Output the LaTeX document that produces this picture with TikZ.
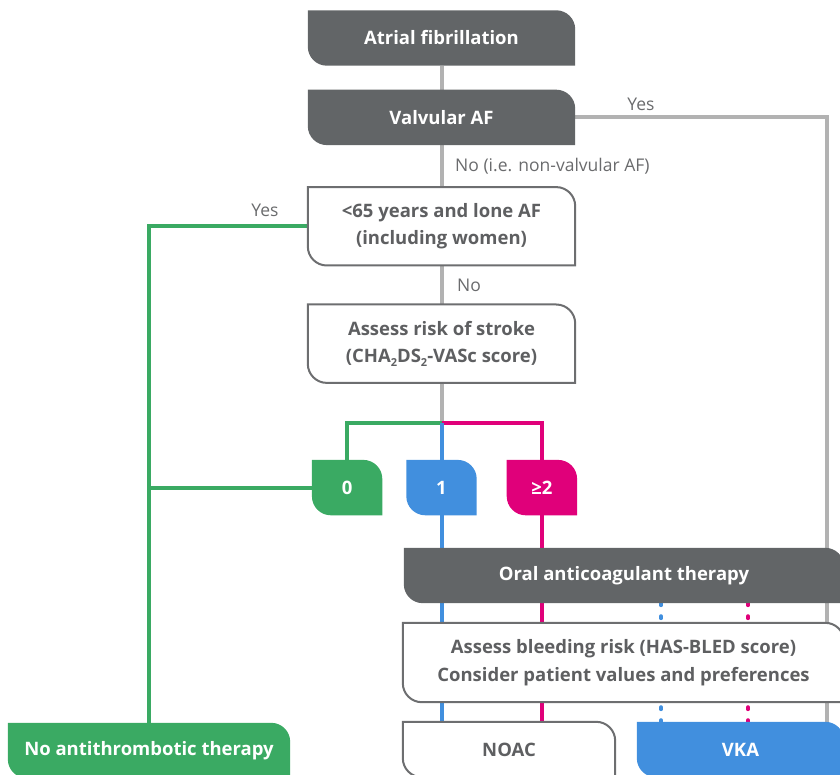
\documentclass[tikz,border=0pt]{standalone}
\usepackage{fontspec}
\setmainfont{Open Sans}
\usepackage{tikz}
\usetikzlibrary{positioning}
\definecolor{afdark}{HTML}{626567}
\definecolor{afline}{HTML}{B2B2B2}
\definecolor{afborder}{HTML}{6D6E70}
\definecolor{aftext}{HTML}{5E5F61}
\definecolor{aflabel}{HTML}{6A6B6D}
\definecolor{afgreen}{HTML}{3AAA63}
\definecolor{afblue}{HTML}{418FDE}
\definecolor{afmagenta}{HTML}{E0007A}
\pgfdeclarelayer{links}
\pgfdeclarelayer{boxes}
\pgfsetlayers{links,boxes,main}
\newcommand{\leafr}{19pt}
\newcommand{\lowtwo}{\raisebox{-3.5pt}{\fontsize{11}{11}\selectfont 2}}
% leaf outline: square top-left and bottom-right, rounded top-right and bottom-left
\newcommand{\leafbox}[2]{%
  \begin{pgfonlayer}{boxes}
  \path[#1] (#2.north west) -- ([xshift=-\leafr]#2.north east)
    arc[start angle=90,end angle=0,radius=\leafr] -- (#2.south east)
    -- ([xshift=\leafr]#2.south west)
    arc[start angle=270,end angle=180,radius=\leafr] -- cycle;
  \end{pgfonlayer}}
\tikzset{
flow box/.style={
  inner sep=0pt,
  align=center,
  minimum width=267pt,
  minimum height=55pt,
  font=\fontsize{18.5}{27.5}\selectfont\bfseries,
  text=aftext
},
dark box/.style={flow box, text=white},
score box/.style={dark box, minimum width=70pt},
flow label/.style={font=\fontsize{17.5}{20}\selectfont, text=aflabel, inner sep=0pt},
dark leaf/.style={fill=afdark},
white leaf/.style={fill=white, draw=afborder, line width=2pt},
green leaf/.style={fill=afgreen},
blue leaf/.style={fill=afblue},
magenta leaf/.style={fill=afmagenta},
gray link/.style={draw=afline, line width=4pt},
green link/.style={draw=afgreen, line width=4pt},
blue link/.style={draw=afblue, line width=4pt},
magenta link/.style={draw=afmagenta, line width=4pt},
dot link/.style={line width=4pt, line cap=round, dash pattern=on 2pt off 11pt}
}
\begin{document}
\begin{tikzpicture}[x=1pt,y=1pt]
\useasboundingbox (0,0) rectangle (840,774);
% main column
\node[dark box] (atrial) at (441.5,736) {Atrial fibrillation};
\node[dark box,below=24pt of atrial] (valvular) {Valvular AF};
\node[flow box,minimum height=78pt,below=42pt of valvular] (young) {<65 years and lone AF\\(including women)};
\node[flow box,minimum height=78pt,below=39pt of young] (stroke) {Assess risk of stroke\\(CHA\lowtwo DS\lowtwo-VASc score)};
\coordinate[below=40pt of stroke] (fork);
% scores
\node[score box,below=37pt of fork] (sone) {1};
\node[score box,left=24pt of sone] (szero) {0};
\node[score box,right=30pt of sone] (stwo) {≥2};
% therapy
\node[dark box,minimum width=440pt] (oral) at (624,198.5) {Oral anticoagulant therapy};
\node[flow box,minimum width=441pt,minimum height=79pt] (bleed) at (623.5,111.5) {Assess bleeding risk (HAS-BLED score)\\Consider patient values and preferences};
\node[flow box,minimum width=212pt] (noac) at (509,24.5) {NOAC};
\node[dark box,minimum width=207pt] (vka) at (740.5,24.5) {VKA};
\node[dark box,minimum width=282pt] (noanti) at (149,23.5) {No antithrombotic therapy};
\leafbox{dark leaf}{atrial}
\leafbox{dark leaf}{valvular}
\leafbox{white leaf}{young}
\leafbox{white leaf}{stroke}
\leafbox{green leaf}{szero}
\leafbox{blue leaf}{sone}
\leafbox{magenta leaf}{stwo}
\leafbox{dark leaf}{oral}
\leafbox{white leaf}{bleed}
\leafbox{white leaf}{noac}
\leafbox{blue leaf}{vka}
\leafbox{green leaf}{noanti}
% connectors
\coordinate (vkain) at (827,52);
\coordinate (bluedots) at (661,52);
\coordinate (magdots) at (748,52);
\begin{pgfonlayer}{links}
\draw[gray link] (atrial) -- (valvular);
\draw[gray link] (valvular) -- (young);
\draw[gray link] (young) -- (stroke);
\draw[gray link] (stroke) -- (fork);
\draw[gray link] (valvular.east) -| (vkain);
\draw[green link] (young.west) -| (noanti.north);
\draw[green link] (szero.west) -- (szero.west -| noanti.north);
\draw[green link] (fork) -| (szero.north);
\draw[magenta link] (fork) -| (stwo.north);
\draw[blue link] (fork) -- (sone.north);
\draw[blue link] (sone.south) -- (sone.south |- noac.north);
\draw[magenta link] (stwo.south) -- (stwo.south |- noac.north);
\draw[dot link,afblue] (oral.south -| bluedots) -- (bluedots);
\draw[dot link,afmagenta] (oral.south -| magdots) -- (magdots);
\end{pgfonlayer}
% labels
\node[flow label] (yesvalv) at (641,670) {Yes};
\node[flow label,anchor=west] (nonvalv) at (455,608) {No (i.e. non-valvular AF)};
\node[flow label] (yeslone) at (265,564) {Yes};
\node[flow label,anchor=west] (nolone) at (457,489) {No};
\end{tikzpicture}
\end{document}
